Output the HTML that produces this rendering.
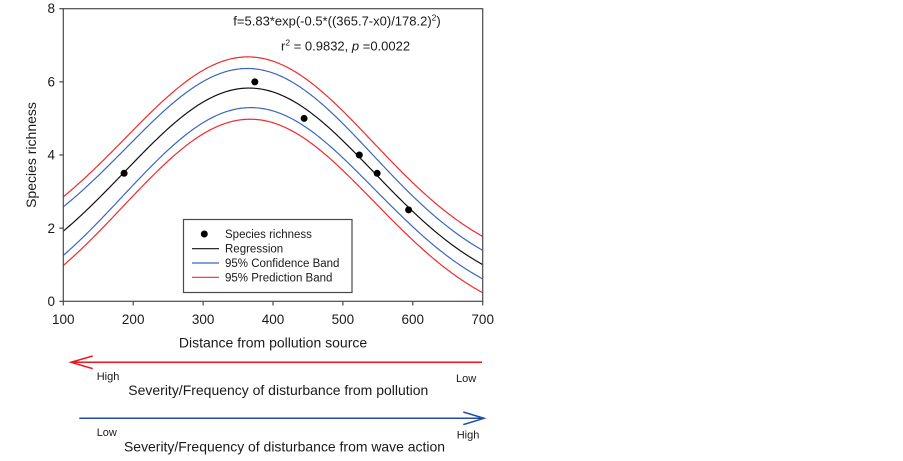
<!DOCTYPE html>
<html>
<head>
<meta charset="utf-8">
<style>
html,body{margin:0;padding:0;background:#fff;}
svg{display:block;font-family:"Liberation Sans",Arial,sans-serif;}
</style>
</head>
<body>
<svg id="c" width="903" height="461" viewBox="0 0 903 461" xmlns="http://www.w3.org/2000/svg">
<rect x="0" y="0" width="903" height="461" fill="#fff"/>
<defs><clipPath id="pc"><rect x="63.3" y="8.7" width="419.4" height="292.6"/></clipPath></defs>
<g id="curves" clip-path="url(#pc)" fill="none" stroke-width="1.2"></g>
<!-- frame -->
<rect x="63.3" y="8.7" width="419.4" height="292.6" fill="none" stroke="#4a4a4a" stroke-width="1.2"/>
<g id="ticks" stroke="#4a4a4a" stroke-width="1.2"></g>
<g font-size="13.5" fill="#1a1a1a" text-anchor="end">
<text x="55" y="13">8</text>
<text x="55" y="86.6">6</text>
<text x="55" y="159.7">4</text>
<text x="55" y="232.9">2</text>
<text x="55" y="306">0</text>
</g>
<g font-size="13.5" fill="#1a1a1a" text-anchor="middle">
<text x="63.3" y="324">100</text>
<text x="133.2" y="324">200</text>
<text x="203.1" y="324">300</text>
<text x="273" y="324">400</text>
<text x="342.9" y="324">500</text>
<text x="412.8" y="324">600</text>
<text x="482.7" y="324">700</text>
</g>
<text x="273" y="347.5" font-size="14" fill="#1a1a1a" text-anchor="middle">Distance from pollution source</text>
<text transform="translate(36,155) rotate(-90)" font-size="14" fill="#1a1a1a" text-anchor="middle">Species richness</text>
<text x="233.3" y="25.5" font-size="13" fill="#1a1a1a">f=5.83*exp(-0.5*((365.7-x0)/178.2)<tspan font-size="8.5" dy="-5">2</tspan><tspan dy="5">)</tspan></text>
<text x="281" y="50.5" font-size="13" fill="#1a1a1a">r<tspan font-size="8.5" dy="-5">2</tspan><tspan dy="5"> = 0.9832, </tspan><tspan font-style="italic">p</tspan><tspan> =0.0022</tspan></text>
<!-- legend -->
<rect x="183.5" y="219.5" width="168.5" height="73" fill="#fff" stroke="#4a4a4a" stroke-width="1.2"/>
<circle cx="204.3" cy="234" r="3.5" fill="#000"/>
<line x1="192" y1="248.7" x2="219" y2="248.7" stroke="#111" stroke-width="1.2"/>
<line x1="192" y1="263" x2="219" y2="263" stroke="#3b66c0" stroke-width="1.2"/>
<line x1="192" y1="277.3" x2="219" y2="277.3" stroke="#f02a2e" stroke-width="1.2"/>
<g font-size="11.5" fill="#1a1a1a">
<text x="225" y="238">Species richness</text>
<text x="225" y="252.7">Regression</text>
<text x="225" y="267">95% Confidence Band</text>
<text x="225" y="281.3">95% Prediction Band</text>
</g>
<g id="pts" fill="#000"></g>
<!-- arrows -->
<g stroke="#e8191f" stroke-width="1.5" fill="none">
<line x1="71" y1="362.3" x2="482" y2="362.3"/>
<polyline points="92.7,356 71,362.3 92.7,368.6"/>
</g>
<g stroke="#1f4ea6" stroke-width="1.5" fill="none">
<line x1="79.3" y1="418.3" x2="484" y2="418.3"/>
<polyline points="463.3,412 484,418.3 463.3,424.6"/>
</g>
<g font-size="11" fill="#1a1a1a">
<text x="96.7" y="380">High</text>
<text x="456" y="382">Low</text>
<text x="96.7" y="436">Low</text>
<text x="456.7" y="438.5">High</text>
</g>
<g font-size="14" fill="#1a1a1a">
<text x="128.3" y="395" textLength="300" lengthAdjust="spacingAndGlyphs">Severity/Frequency of disturbance from pollution</text>
<text x="124" y="451.7" textLength="321" lengthAdjust="spacingAndGlyphs">Severity/Frequency of disturbance from wave action</text>
</g>
</svg>
<script>
(function(){
var NS="http://www.w3.org/2000/svg";
function X(v){return 63.3+(v-100)*0.699;}
function Y(v){return 301.3-v*36.575;}
function f(x){var z=(365.7-x)/178.2;return 5.83*Math.exp(-0.5*z*z);}
var cp=[[100,0.665],[187,0.61],[366,0.535],[594,0.42],[700,0.39]];
function conf(x){
  for(var i=0;i<cp.length-1;i++){
    if(x<=cp[i+1][0]){var t=(x-cp[i][0])/(cp[i+1][0]-cp[i][0]);return cp[i][1]+t*(cp[i+1][1]-cp[i][1]);}
  }
  return cp[cp.length-1][1];
}
function pred(x){var c=conf(x);return Math.sqrt(0.44+c*c);}
function path(fn,color){
  var d="";
  for(var x=98;x<=702;x+=2){d+=(x===98?"M":"L")+X(x).toFixed(2)+","+Y(fn(x)).toFixed(2);}
  var p=document.createElementNS(NS,"path");
  p.setAttribute("d",d);p.setAttribute("stroke",color);
  document.getElementById("curves").appendChild(p);
}
path(function(x){return f(x)+pred(x);},"#f02a2e");
path(function(x){return f(x)-pred(x);},"#f02a2e");
path(function(x){return f(x)+conf(x);},"#3b66c0");
path(function(x){return f(x)-conf(x);},"#3b66c0");
path(f,"#111");
var tk=document.getElementById("ticks");
function ln(x1,y1,x2,y2){var l=document.createElementNS(NS,"line");l.setAttribute("x1",x1);l.setAttribute("y1",y1);l.setAttribute("x2",x2);l.setAttribute("y2",y2);tk.appendChild(l);}
for(var v=0;v<=8;v+=2){ln(59.3,Y(v),63.3,Y(v));}
for(var xv=100;xv<=700;xv+=100){ln(X(xv),301.3,X(xv),305.5);}
var pts=[[187,3.5],[374,6.0],[444.5,5.0],[523.5,4.0],[549,3.5],[594,2.5]];
var g=document.getElementById("pts");
pts.forEach(function(p){var c=document.createElementNS(NS,"circle");c.setAttribute("cx",X(p[0]));c.setAttribute("cy",Y(p[1]));c.setAttribute("r",3.5);g.appendChild(c);});
})();
</script>
</body>
</html>
